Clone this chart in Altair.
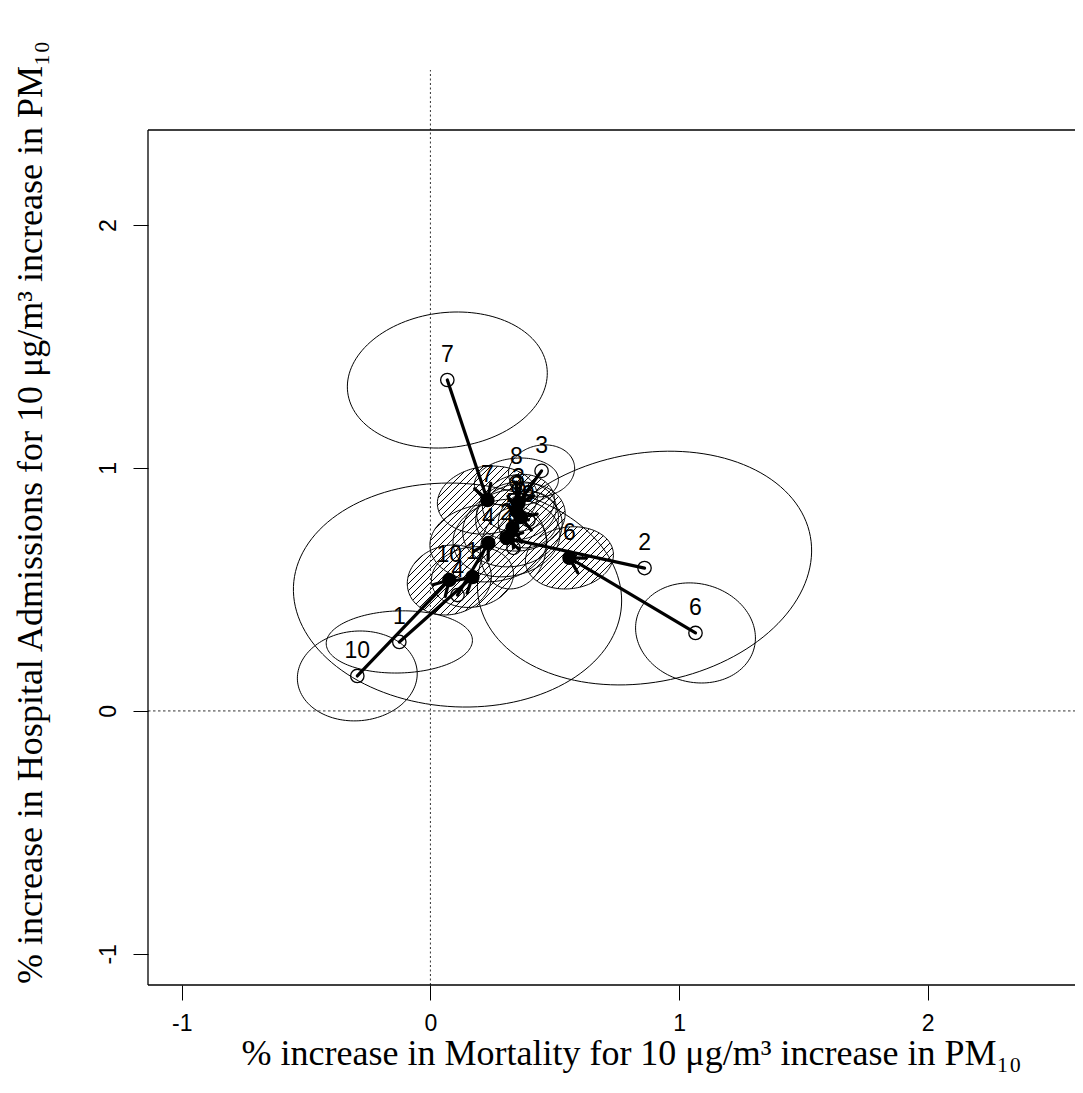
import altair as alt
import pandas as pd
import numpy as np

# ---------------- data ----------------
cities = [1, 2, 3, 4, 5, 6, 7, 8, 9, 10]
# raw (city-specific) estimates: mortality (x) vs hospital admissions (y)
raw_x = [-0.125, 0.861, 0.447, 0.109, 0.334, 1.066, 0.068, 0.346, 0.394, -0.294]
raw_y = [0.284, 0.588, 0.988, 0.477, 0.671, 0.321, 1.362, 0.942, 0.786, 0.144]
# shrunken (Bayes) estimates
shr_x = [0.169, 0.306, 0.354, 0.233, 0.330, 0.559, 0.229, 0.346, 0.362, 0.076]
shr_y = [0.551, 0.712, 0.856, 0.691, 0.753, 0.630, 0.868, 0.823, 0.798, 0.539]
# raw confidence ellipses: half-width (x), half-height (y), correlation
raw_ax = [0.294, 0.672, 0.133, 0.660, 0.133, 0.241, 0.402, 0.169, 0.121, 0.241]
raw_by = [0.128, 0.481, 0.107, 0.461, 0.169, 0.206, 0.280, 0.099, 0.115, 0.185]
raw_rho = [0.05, 0.15, 0.10, -0.05, 0.10, -0.10, 0.10, 0.10, 0.10, 0.05]
# shrunken (hatched) ellipses
shr_ax = [0.165, 0.215, 0.145, 0.235, 0.200, 0.177, 0.201, 0.160, 0.180, 0.169]
shr_by = [0.125, 0.160, 0.118, 0.160, 0.160, 0.128, 0.140, 0.120, 0.140, 0.144]
shr_rho = [0.10, 0.10, 0.10, 0.05, 0.10, 0.10, 0.10, 0.10, 0.10, 0.10]

x_ticks = [-1, 0, 1, 2]
y_ticks = [-1, 0, 1, 2]
x_title = "% increase in Mortality for 10 \u03bcg/m\u00b3 increase in PM\u2081\u2080"
y_title = "% increase in Hospital Admissions for 10 \u03bcg/m\u00b3 increase in PM\u2081\u2080"

# ---------------- geometry helpers ----------------
W, H = 927, 855
PX_X, PX_Y = 248.67, 243.0
XMIN = -1.1357
XMAX = XMIN + W / PX_X
YMIN, YMAX = -1.128, 2.391
YTOP_REF = 2.638
kx = W / (XMAX - XMIN)
ky = H / (YMAX - YMIN)


def ellipse(cx, cy, a, b, rho, n=140):
    d = np.arccos(rho)
    t = np.linspace(0, 2 * np.pi, n)
    return cx + a * np.cos(t + d / 2), cy + b * np.cos(t - d / 2)


def hatch(xs, ys, step=7.0):
    X = (xs - XMIN) * kx
    Y = (YMAX - ys) * ky
    u = X + Y
    segs = []
    n = len(X) - 1
    c = np.ceil(u.min() / step) * step
    while c < u.max():
        pts = []
        for i in range(n):
            j = i + 1
            if (u[i] - c) * (u[j] - c) < 0:
                t = (c - u[i]) / (u[j] - u[i])
                pts.append((X[i] + t * (X[j] - X[i]), Y[i] + t * (Y[j] - Y[i])))
        if len(pts) >= 2:
            (X1, Y1), (X2, Y2) = pts[0], pts[1]
            segs.append(dict(x=X1 / kx + XMIN, y=YMAX - Y1 / ky,
                             x2=X2 / kx + XMIN, y2=YMAX - Y2 / ky))
        c += step
    return segs


ell_rows, hatch_rows = [], []
for i, c in enumerate(cities):
    ex, ey = ellipse(raw_x[i], raw_y[i], raw_ax[i], raw_by[i], raw_rho[i])
    for k, (a, b) in enumerate(zip(ex, ey)):
        ell_rows.append(dict(x=a, y=b, id=f"r{c}", ord=k))
    ex, ey = ellipse(shr_x[i], shr_y[i], shr_ax[i], shr_by[i], shr_rho[i])
    for k, (a, b) in enumerate(zip(ex, ey)):
        ell_rows.append(dict(x=a, y=b, id=f"s{c}", ord=k))
    hatch_rows += hatch(ex, ey)
ell_df = pd.DataFrame(ell_rows)
hatch_df = pd.DataFrame(hatch_rows)

arrow_df = pd.DataFrame(dict(x=raw_x, y=raw_y, x2=shr_x, y2=shr_y))

barb_rows = []
L, ang = 17.0, np.radians(30)
for i in range(len(cities)):
    X0, Y0 = (raw_x[i] - XMIN) * kx, (YMAX - raw_y[i]) * ky
    X1, Y1 = (shr_x[i] - XMIN) * kx, (YMAX - shr_y[i]) * ky
    back = np.arctan2(Y0 - Y1, X0 - X1)
    for s in (-1, 1):
        bx = X1 + L * np.cos(back + s * ang)
        by = Y1 + L * np.sin(back + s * ang)
        barb_rows.append(dict(x=shr_x[i], y=shr_y[i],
                              x2=bx / kx + XMIN, y2=YMAX - by / ky))
barb_df = pd.DataFrame(barb_rows)

pts_raw = pd.DataFrame(dict(x=raw_x, y=raw_y, lab=[str(c) for c in cities]))
pts_shr = pd.DataFrame(dict(x=shr_x, y=shr_y, lab=[str(c) for c in cities]))
labels_df = pd.concat([pts_raw, pts_shr], ignore_index=True)

vref = pd.DataFrame(dict(x=[0.0], x2=[0.0], y=[YMIN], y2=[YTOP_REF]))
href = pd.DataFrame(dict(x=[XMIN], x2=[XMAX], y=[0.0], y2=[0.0]))
frame = pd.DataFrame(dict(x=[XMIN, XMIN, XMIN], x2=[XMAX, XMAX, XMIN],
                          y=[YMAX, YMIN, YMIN], y2=[YMAX, YMIN, YMAX]))

# ---------------- encodings ----------------
xs = alt.Scale(domain=[XMIN, XMAX], nice=False, zero=False)
ys = alt.Scale(domain=[YMIN, YMAX], nice=False, zero=False)
xaxis = alt.Axis(values=x_ticks, title=x_title, domain=False, grid=False,
                 tickSize=15, tickColor="black", tickWidth=1,
                 labelFont="Liberation Sans", labelFontSize=23, labelColor="black",
                 labelPadding=12, labelExpr="'' + datum.value",
                 titleFont="Liberation Serif", titleFontSize=36,
                 titleFontWeight="normal", titleColor="black",
                 titleX=483, titleY=68, titleBaseline="middle", titleAlign="center")
yaxis = alt.Axis(values=y_ticks, title=y_title, domain=False, grid=False,
                 tickSize=15, tickColor="black", tickWidth=1,
                 labelFont="Liberation Sans", labelFontSize=23, labelColor="black",
                 labelAngle=-90, labelAlign="center", labelBaseline="middle",
                 labelPadding=25, labelExpr="'' + datum.value",
                 titleFont="Liberation Serif", titleFontSize=36,
                 titleFontWeight="normal", titleColor="black",
                 titleX=-118, titleY=382, titleAngle=-90,
                 titleBaseline="middle", titleAlign="center")

X = alt.X("x:Q", scale=xs, axis=xaxis)
Y = alt.Y("y:Q", scale=ys, axis=yaxis)

ellipses = alt.Chart(ell_df).mark_line(color="black", strokeWidth=1).encode(
    x=X, y=Y, detail="id:N", order="ord:Q")

hatching = alt.Chart(hatch_df).mark_rule(color="black", strokeWidth=1).encode(
    x=X, y=Y, x2="x2:Q", y2="y2:Q")

v_line = alt.Chart(vref).mark_rule(color="#333333", strokeWidth=1,
                                   strokeDash=[2, 2.5]).encode(
    x=X, y=Y, x2="x2:Q", y2="y2:Q")
h_line = alt.Chart(href).mark_rule(color="#333333", strokeWidth=1,
                                   strokeDash=[2.5, 2.5]).encode(
    x=X, y=Y, x2="x2:Q", y2="y2:Q")

arrows = alt.Chart(arrow_df).mark_rule(color="black", strokeWidth=3.2,
                                       strokeCap="round").encode(
    x=X, y=Y, x2="x2:Q", y2="y2:Q")
barbs = alt.Chart(barb_df).mark_rule(color="black", strokeWidth=3.2,
                                     strokeCap="round").encode(
    x=X, y=Y, x2="x2:Q", y2="y2:Q")

open_pts = alt.Chart(pts_raw).mark_point(shape="circle", filled=False,
                                         color="black", strokeWidth=1.3,
                                         size=180, opacity=1).encode(x=X, y=Y)
solid_pts = alt.Chart(pts_shr).mark_circle(color="black", size=210,
                                           opacity=1).encode(x=X, y=Y)

labels = alt.Chart(labels_df).mark_text(font="Liberation Sans", fontSize=23,
                                        color="black", dy=-25,
                                        baseline="middle").encode(
    x=X, y=Y, text="lab:N")

box = alt.Chart(frame).mark_rule(color="black", strokeWidth=1.3).encode(
    x=X, y=Y, x2="x2:Q", y2="y2:Q")

chart = alt.layer(ellipses, hatching, v_line, h_line, arrows, barbs,
                  open_pts, solid_pts, labels, box).properties(
    width=W, height=H,
    autosize=alt.AutoSizeParams(type="none"),
    padding={"left": 140, "top": 122, "right": 0, "bottom": 90},
    background="white",
).configure_view(stroke=None)

chart.save("out.html", embed_options={"renderer": "svg", "actions": False})
